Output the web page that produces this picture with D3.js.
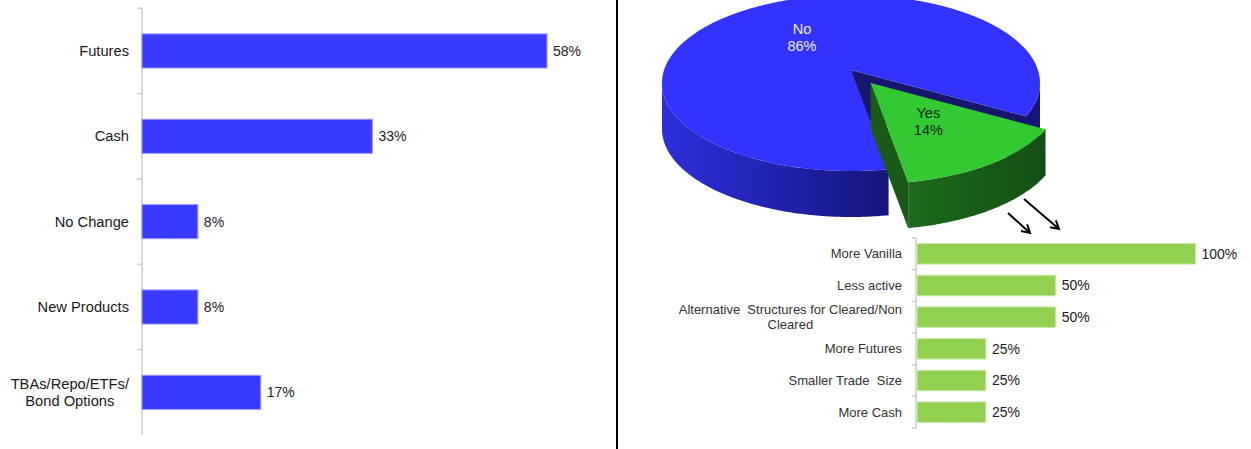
<!DOCTYPE html>
<html><head><meta charset="utf-8">
<script src="https://cdn.jsdelivr.net/npm/d3@7"></script>
<style>
body{margin:0;background:#fff;}
svg{display:block;font-family:Arial,"Liberation Sans",sans-serif;}
</style></head><body>
<svg id="chart" width="1251" height="449"></svg>
<script>
// Left panel: where activity moved to
const shiftCategories = ["Futures", "Cash", "No Change", "New Products", "TBAs/Repo/ETFs/\nBond Options"];
const shiftValues = [58, 33, 8, 8, 17];

// Pie: did trading behaviour change?
const pieLabels = ["No", "Yes"];
const pieValues = [86, 14];

// Breakdown of the "Yes" answers
const changeCategories = ["More Vanilla", "Less active", "Alternative  Structures for Cleared/Non\nCleared", "More Futures", "Smaller Trade  Size", "More Cash"];
const changeValues = [100, 50, 50, 25, 25, 25];

const svg = d3.select("#chart");
const defs = svg.append("defs");

// multi-line category labels, right edge fixed, lines centred on each other
function categoryLabel(g, text, xRight, yMid, size, lh, color) {
  const lines = text.split("\n");
  const t = g.append("text").attr("font-size", size).attr("fill", color)
    .style("white-space", "pre");
  lines.forEach((ln, i) => {
    t.append("tspan").text(ln)
      .attr("y", yMid + (i - (lines.length - 1) / 2) * lh)
      .attr("dy", "0.35em");
  });
  if (lines.length === 1) {
    t.attr("text-anchor", "end").selectAll("tspan").attr("x", xRight);
  } else {
    let w = 0;
    t.selectAll("tspan").each(function () { w = Math.max(w, this.getComputedTextLength()); });
    t.attr("text-anchor", "middle").selectAll("tspan").attr("x", xRight - w / 2);
  }
}

// ---------- left bar chart ----------
{
  const g = svg.append("g");
  const x = d3.scaleLinear().domain([0, 58]).range([142, 547]);
  const y = d3.scaleBand().domain(shiftCategories).range([8.3, 435]).paddingInner(0.6).paddingOuter(0.3);

  g.append("line").attr("x1", 142).attr("x2", 142).attr("y1", y.range()[0]).attr("y2", y.range()[1])
    .attr("stroke", "#cfcfcf").attr("stroke-width", 1.6);
  d3.range(shiftCategories.length).forEach(i => {
    const yy = y.range()[0] + i * y.step();
    g.append("line").attr("x1", 137).attr("x2", 142).attr("y1", yy).attr("y2", yy)
      .attr("stroke", "#cfcfcf").attr("stroke-width", 1.6);
  });

  g.selectAll("rect.bar").data(shiftValues).join("rect").attr("class", "bar")
    .attr("x", x(0)).attr("y", (d, i) => y(shiftCategories[i]))
    .attr("width", d => x(d) - x(0)).attr("height", y.bandwidth())
    .attr("fill", "#3a3aff").attr("stroke", "#9a9aff").attr("stroke-width", 1);

  g.selectAll("text.val").data(shiftValues).join("text").attr("class", "val")
    .attr("x", d => x(d) + 6).attr("y", (d, i) => y(shiftCategories[i]) + y.bandwidth() / 2)
    .attr("dy", "0.35em").attr("font-size", 14).attr("fill", "#222")
    .text(d => d + "%");

  shiftCategories.forEach(c => categoryLabel(g, c, 129, y(c) + y.bandwidth() / 2, 14.7, 16.5, "#1a1a1a"));
}

// ---------- divider ----------
svg.append("line").attr("x1", 617).attr("x2", 617).attr("y1", 0).attr("y2", 449)
  .attr("stroke", "#000").attr("stroke-width", 2);

// ---------- 3D exploded pie ----------
{
  const g = svg.append("g");
  const cx = 851, cy = 83, rx = 189, ry = 88, apexY = 70, depth = 46, k = ry / rx;
  const explode = 34;
  const colors = {
    No: { top: "#3333ff", wall: "#16166c", side: "sideBlue", text: "#eeeeff", labelR: 0.45 },
    Yes: { top: "#33c933", wall: "#195a19", side: "sideGreen", text: "#142814", labelR: 0.53 }
  };

  const gb = defs.append("linearGradient").attr("id", "sideBlue")
    .attr("gradientUnits", "userSpaceOnUse").attr("x1", 662).attr("x2", 890).attr("y1", 0).attr("y2", 0);
  gb.append("stop").attr("offset", 0).attr("stop-color", "#2e2edc");
  gb.append("stop").attr("offset", 0.5).attr("stop-color", "#2222ae");
  gb.append("stop").attr("offset", 1).attr("stop-color", "#15157a");
  const gg = defs.append("linearGradient").attr("id", "sideGreen")
    .attr("gradientUnits", "userSpaceOnUse").attr("x1", 890).attr("x2", 1060).attr("y1", 0).attr("y2", 0);
  gg.append("stop").attr("offset", 0).attr("stop-color", "#1d6a1d");
  gg.append("stop").attr("offset", 1).attr("stop-color", "#124812");

  // point where a ray from the apex at screen angle a meets the rim ellipse
  function rimPoint(a) {
    const dx = Math.cos(a), dy = k * Math.sin(a), py = apexY - cy;
    const A = dx * dx / (rx * rx) + dy * dy / (ry * ry);
    const B = 2 * py * dy / (ry * ry);
    const C = py * py / (ry * ry) - 1;
    const t = (-B + Math.sqrt(B * B - 4 * A * C)) / (2 * A);
    return [cx + t * dx, apexY + t * dy];
  }
  const paramOf = p => Math.atan2((p[1] - cy) / ry, (p[0] - cx) / rx);
  const ellPt = f => [cx + rx * Math.cos(f), cy + ry * Math.sin(f)];
  function arcPts(f0, f1) {
    const n = Math.max(2, Math.ceil(Math.abs(f1 - f0) / 0.01));
    return d3.range(n + 1).map(i => ellPt(f0 + (f1 - f0) * i / n));
  }
  const line = pts => "M" + pts.map(p => p[0].toFixed(2) + "," + p[1].toFixed(2)).join("L") + "Z";

  const pie = d3.pie().sort(null).value(d => d)
    .startAngle(-190 * Math.PI / 180).endAngle(170 * Math.PI / 180);
  const arcs = pie(pieValues);

  arcs.forEach((d, i) => {
    const name = pieLabels[i], col = colors[name];
    const a0 = d.startAngle - Math.PI / 2, a1 = d.endAngle - Math.PI / 2; // screen angles
    const m = (a0 + a1) / 2;
    const off = name === "Yes" ? [explode * Math.cos(m), explode * k * Math.sin(m)] : [0, 0];
    const sg = g.append("g").attr("transform", `translate(${off[0]},${off[1]})`);

    const p0 = rimPoint(a0), p1 = rimPoint(a1);
    let f0 = paramOf(p0), f1 = paramOf(p1);
    while (f1 <= f0) f1 += 2 * Math.PI;
    const apex = [cx, apexY];
    const down = p => [p[0], p[1] + depth];

    // radial walls that face the viewer
    [[a0, p0, -1], [a1, p1, 1]].forEach(([a, p, s]) => {
      if (Math.sin(a + s * Math.PI / 2) > 0) {
        sg.append("path").attr("d", line([apex, p, down(p), down(apex)])).attr("fill", col.wall);
      }
    });

    // outer rim side, front half only
    for (let n = -1; n <= 2; n++) {
      const lo = Math.max(f0, 2 * Math.PI * n), hi = Math.min(f1, 2 * Math.PI * n + Math.PI);
      if (lo < hi) {
        const top = arcPts(lo, hi);
        const pts = top.concat(top.slice().reverse().map(down));
        sg.append("path").attr("d", line(pts)).attr("fill", `url(#${col.side})`);
      }
    }

    // top face
    sg.append("path").attr("d", line([apex].concat(arcPts(f0, f1)))).attr("fill", col.top);

    // slice label
    const L = col.labelR * rx;
    const lx = cx + L * Math.cos(m), ly = apexY + L * k * Math.sin(m);
    const t = sg.append("text").attr("text-anchor", "middle").attr("font-size", 14.5)
      .attr("fill", col.text);
    [name, d.data + "%"].forEach((s, j) => {
      t.append("tspan").attr("x", lx).attr("y", ly + (j - 0.5) * 16.8).attr("dy", "0.35em").text(s);
    });
  });

  // arrows pointing down to the breakdown
  const mk = defs.append("marker").attr("id", "arrowHead").attr("viewBox", "-10 -6 12 12")
    .attr("refX", 0).attr("refY", 0).attr("markerWidth", 12).attr("markerHeight", 12)
    .attr("markerUnits", "userSpaceOnUse").attr("orient", "auto");
  mk.append("path").attr("d", "M-8,-4.5L0,0L-8,4.5").attr("fill", "none").attr("stroke", "#000").attr("stroke-width", 2);
  [[1008, 213, 1030, 233], [1024, 199, 1059, 229]].forEach(([x1, y1, x2, y2]) => {
    g.append("line").attr("x1", x1).attr("y1", y1).attr("x2", x2).attr("y2", y2)
      .attr("stroke", "#000").attr("stroke-width", 2).attr("marker-end", "url(#arrowHead)");
  });
}

// ---------- right bar chart ----------
{
  const g = svg.append("g");
  const x = d3.scaleLinear().domain([0, 100]).range([916, 1195.5]);
  const y = d3.scaleBand().domain(changeCategories).range([238, 428]).paddingInner(0.35).paddingOuter(0.175);

  g.append("line").attr("x1", 916).attr("x2", 916).attr("y1", y.range()[0]).attr("y2", y.range()[1])
    .attr("stroke", "#c8c8c8").attr("stroke-width", 1.4);
  d3.range(changeCategories.length + 1).forEach(i => {
    const yy = y.range()[0] + i * y.step();
    g.append("line").attr("x1", 912).attr("x2", 916).attr("y1", yy).attr("y2", yy)
      .attr("stroke", "#c8c8c8").attr("stroke-width", 1.4);
  });

  g.selectAll("rect.bar").data(changeValues).join("rect").attr("class", "bar")
    .attr("x", x(0) + 1).attr("y", (d, i) => y(changeCategories[i]))
    .attr("width", d => x(d) - x(0) - 1).attr("height", y.bandwidth())
    .attr("fill", "#92d050").attr("stroke", "#cdeab0").attr("stroke-width", 1);

  g.selectAll("text.val").data(changeValues).join("text").attr("class", "val")
    .attr("x", d => x(d) + 6).attr("y", (d, i) => y(changeCategories[i]) + y.bandwidth() / 2)
    .attr("dy", "0.35em").attr("font-size", 14).attr("fill", "#222")
    .text(d => d + "%");

  changeCategories.forEach(c => categoryLabel(g, c, 902, y(c) + y.bandwidth() / 2, 13, 15, "#333"));
}
</script>
</body></html>
